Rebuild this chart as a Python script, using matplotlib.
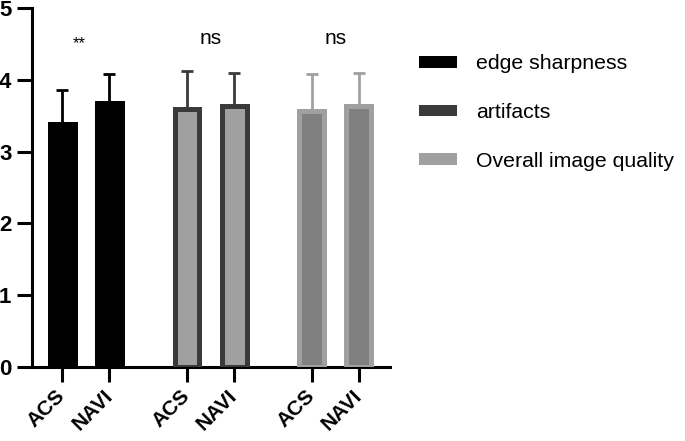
import matplotlib.pyplot as plt
from matplotlib.patches import Patch
import numpy as np

plt.rcParams['font.family'] = ['Liberation Sans', 'DejaVu Sans']

# data
groups = ['edge sharpness', 'artifacts', 'Overall image quality']
methods = ['ACS', 'NAVI']
means = [3.38, 3.67, 3.59, 3.63, 3.57, 3.63]
sd_upper = [0.48, 0.41, 0.53, 0.47, 0.51, 0.47]
signif = ['**', 'ns', 'ns']

fill_colors = ['#000000', '#a0a0a0', '#808080']
edge_colors = ['#000000', '#3a3a3a', '#a0a0a0']
legend_colors = ['#000000', '#3a3a3a', '#a0a0a0']

x = np.array([0, 1, 2.65, 3.65, 5.3, 6.3])

fig = plt.figure(figsize=(6.85, 4.41), dpi=100)
ax = fig.add_axes([0.047, 0.168, 0.522, 0.814])

for g in range(3):
    idx = [2 * g, 2 * g + 1]
    ax.bar(x[idx], [means[i] for i in idx], width=0.53,
           color=fill_colors[g], edgecolor=edge_colors[g], linewidth=3.6, zorder=3)
    ax.errorbar(x[idx], [means[i] for i in idx],
                yerr=[[0, 0], [sd_upper[i] for i in idx]],
                fmt='none', ecolor=edge_colors[g], elinewidth=2, capsize=4.5,
                capthick=2, zorder=2)
    ax.text(x[idx].mean() - (0.13 if signif[g] == '**' else 0), 4.57 if signif[g] == 'ns' else 4.50,
            signif[g], ha='center', va='center', fontsize=15 if signif[g] == 'ns' else 12)

ax.set_xlim(-0.64, 6.96)
ax.set_ylim(0, 5)
ax.set_yticks([0, 1, 2, 3, 4, 5])
ax.set_xticks(x)
ax.set_xticklabels(methods * 3, rotation=45, ha='right', va='center',
                   rotation_mode='anchor', fontsize=15, fontweight='bold')
for lab in ax.get_yticklabels():
    lab.set_fontweight('bold')
ax.tick_params(axis='y', length=11, width=2.2, pad=4, labelsize=16)
ax.tick_params(axis='x', length=11, width=2.2, pad=8)
for s in ['top', 'right']:
    ax.spines[s].set_visible(False)
for s in ['left', 'bottom']:
    ax.spines[s].set_linewidth(2.2)
ax.spines['left'].set_bounds(0, 5)

handles = [Patch(facecolor=c, edgecolor='none') for c in legend_colors]
fig.legend(handles, groups, loc='upper left', bbox_to_anchor=(0.599, 0.896),
           frameon=False, fontsize=15.3, handlelength=1.8, handleheight=0.47,
           handletextpad=0.9, labelspacing=1.4, borderaxespad=0)

fig.savefig('out.png', dpi=100)
